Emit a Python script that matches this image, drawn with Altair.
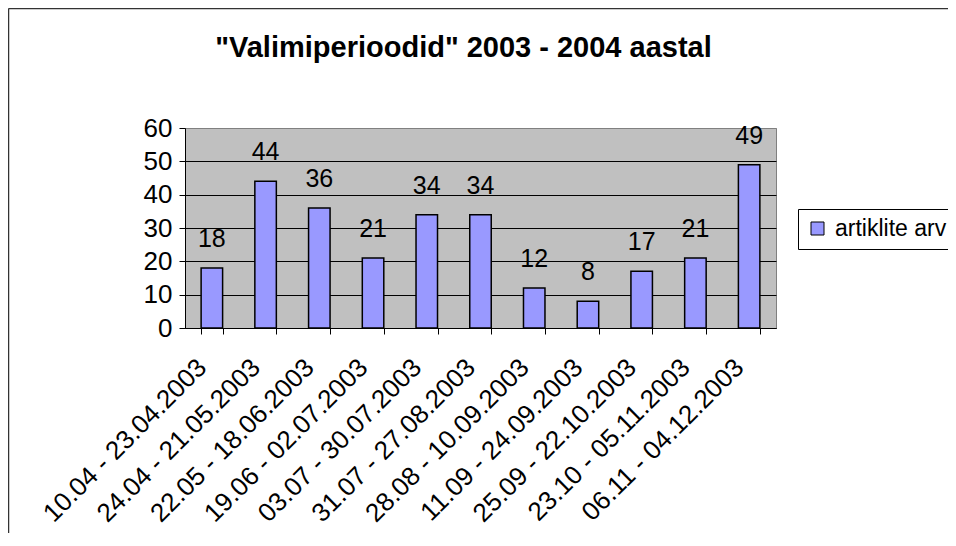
import altair as alt
import pandas as pd

periods = [
    "10.04 - 23.04.2003",
    "24.04 - 21.05.2003",
    "22.05 - 18.06.2003",
    "19.06 - 02.07.2003",
    "03.07 - 30.07.2003",
    "31.07 - 27.08.2003",
    "28.08 - 10.09.2003",
    "11.09 - 24.09.2003",
    "25.09 - 22.10.2003",
    "23.10 - 05.11.2003",
    "06.11 - 04.12.2003",
]
counts = [18, 44, 36, 21, 34, 34, 12, 8, 17, 21, 49]
series_name = "artiklite arv"
title_text = '"Valimiperioodid" 2003 - 2004 aastal'
y_ticks = [0, 10, 20, 30, 40, 50, 60]

FONT = "Liberation Sans"

df = pd.DataFrame({"period": periods, "value": counts, "series": [series_name] * len(periods)})
one = pd.DataFrame({"t": [title_text]})

x_enc = alt.X(
    "period:N",
    sort=periods,
    scale=alt.Scale(paddingInner=0.6, paddingOuter=0.3),
    axis=alt.Axis(
        title=None,
        labelAngle=-45,
        labelAlign="right",
        labelBaseline="middle",
        labelPadding=29,
        labelOffset=-10,
        labelFontSize=26,
        labelFont=FONT,
        labelColor="black",
        labelLimit=400,
        labelOverlap=False,
        tickBand="extent",
        tickSize=6,
        tickColor="black",
        domainColor="black",
        grid=False,
    ),
)
y_enc = alt.Y(
    "value:Q",
    scale=alt.Scale(domain=[0, 60], nice=False),
    axis=alt.Axis(
        title=None,
        values=y_ticks,
        tickSize=6,
        tickColor="black",
        domainColor="black",
        labelPadding=7,
        labelFontSize=26,
        labelFont=FONT,
        labelColor="black",
        labelOverlap=False,
        grid=True,
        gridColor={"condition": {"test": "datum.value === 60", "value": "#808080"}, "value": "black"},
        gridWidth=1,
    ),
)

bars = alt.Chart(df).mark_bar(stroke="black", strokeWidth=1.5, opacity=1).encode(
    x=x_enc,
    y=y_enc,
    color=alt.Color(
        "series:N",
        scale=alt.Scale(range=["#9999FF"]),
        legend=alt.Legend(
            title=None,
            orient="none",
            legendX=613,
            legendY=81,
            direction="vertical",
            padding=8,
            strokeColor="black",
            fillColor="white",
            cornerRadius=0,
            symbolType="square",
            symbolSize=169,
            symbolStrokeColor="black",
            symbolStrokeWidth=1,
            symbolOpacity=1,
            labelFontSize=23,
            labelFont=FONT,
            labelColor="black",
            labelOffset=6,
            labelLimit=400,
        ),
    ),
)

labels = alt.Chart(df).mark_text(
    fontSize=25, font=FONT, color="black", baseline="alphabetic", dy=-21
).encode(
    x=x_enc,
    y=y_enc,
    text=alt.Text("value:Q"),
)

title = alt.Chart(one).mark_text(
    fontSize=29, font=FONT, fontWeight="bold", color="black", align="center", baseline="alphabetic"
).encode(
    x=alt.value(278.5),
    y=alt.value(-71),
    text=alt.Text("t:N"),
)

frame_left = alt.Chart(one).mark_rule(stroke="#333333", strokeWidth=1.5).encode(
    x=alt.value(-176.5),
    y=alt.value(-119.5),
    y2=alt.value(700),
)
frame_top = alt.Chart(one).mark_rule(stroke="#333333", strokeWidth=1.5).encode(
    x=alt.value(-176.5),
    x2=alt.value(900),
    y=alt.value(-119.5),
)

chart = (
    alt.layer(bars, labels, title, frame_left, frame_top)
    .properties(
        width=591,
        height=200,
        padding={"left": 177, "top": 120, "right": 172, "bottom": 205},
        autosize=alt.AutoSizeParams(type="none"),
        background="white",
    )
    .configure_view(fill="#C0C0C0", stroke="#808080", strokeWidth=1)
)

chart.save("out.html", embed_options={"renderer": "svg", "actions": False})
